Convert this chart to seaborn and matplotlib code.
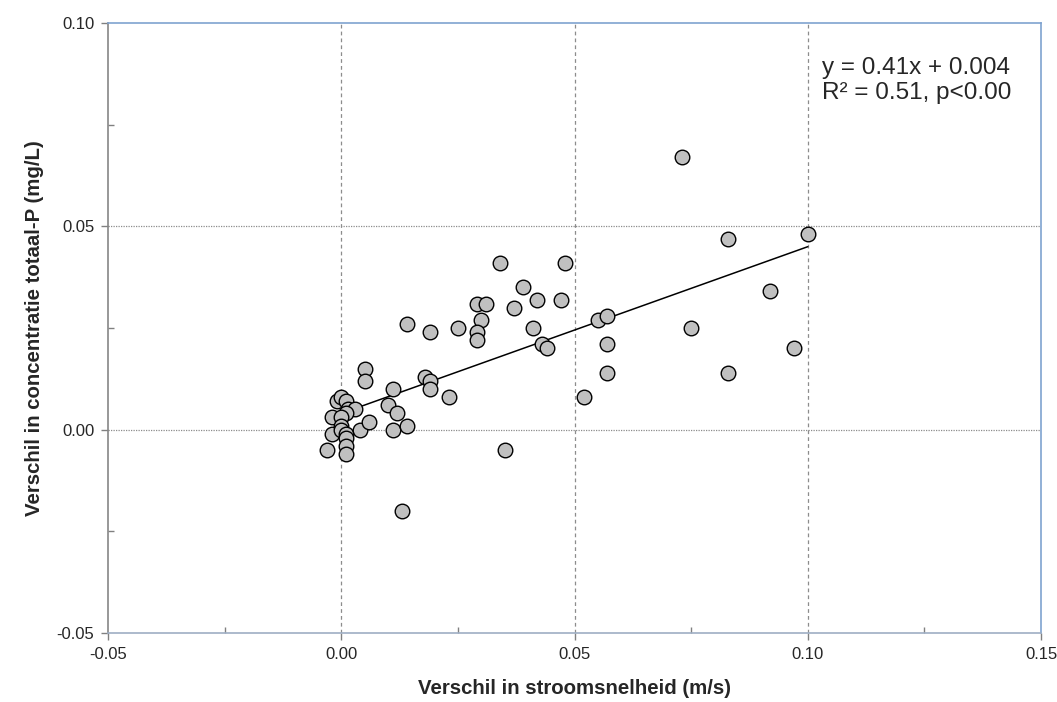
import numpy as np
import pandas as pd
import matplotlib
matplotlib.use("Agg")
import matplotlib.pyplot as plt
from matplotlib.ticker import MultipleLocator, FormatStrFormatter
import seaborn as sns

# ---- data ----
stroomsnelheid = [-0.003, -0.002, -0.002, -0.001, 0.000, 0.001, 0.0015, 0.003, 0.001, 0.000,
                  0.000, 0.000, 0.001, 0.001, 0.001, 0.001, 0.004, 0.006, 0.005, 0.005,
                  0.010, 0.011, 0.011, 0.012, 0.014, 0.013, 0.014, 0.018, 0.019, 0.019,
                  0.019, 0.023, 0.025, 0.029, 0.031, 0.030, 0.029, 0.029, 0.034, 0.039,
                  0.037, 0.042, 0.041, 0.047, 0.048, 0.043, 0.044, 0.055, 0.057, 0.057,
                  0.057, 0.052, 0.035, 0.073, 0.083, 0.100, 0.092, 0.075, 0.097, 0.083]
totaal_p = [-0.005, -0.001, 0.003, 0.007, 0.008, 0.007, 0.005, 0.005, 0.004, 0.003,
            0.001, 0.000, -0.001, -0.002, -0.004, -0.006, 0.000, 0.002, 0.015, 0.012,
            0.006, 0.010, 0.000, 0.004, 0.001, -0.020, 0.026, 0.013, 0.012, 0.010,
            0.024, 0.008, 0.025, 0.031, 0.031, 0.027, 0.024, 0.022, 0.041, 0.035,
            0.030, 0.032, 0.025, 0.032, 0.041, 0.021, 0.020, 0.027, 0.028, 0.021,
            0.014, 0.008, -0.005, 0.067, 0.047, 0.048, 0.034, 0.025, 0.020, 0.014]
trend_slope = 0.41
trend_intercept = 0.004
trend_start = 0.0
x_ticks = [-0.05, 0.00, 0.05, 0.10, 0.15]
y_ticks = [-0.05, 0.00, 0.05, 0.10]
x_label = "Verschil in stroomsnelheid (m/s)"
y_label = "Verschil in concentratie totaal-P (mg/L)"
annot_lines = ["y = 0.41x + 0.004", "R\u00b2 = 0.51, p<0.00"]

df = pd.DataFrame({"x": stroomsnelheid, "y": totaal_p})

sns.set_style("white")
plt.rcParams["font.family"] = ["Liberation Sans", "DejaVu Sans"]

fig = plt.figure(figsize=(10.57, 7.02), dpi=100)
ax = fig.add_axes([0.1022, 0.0983, 0.8827, 0.8689])

# grid
for xv in x_ticks[1:-1]:
    ax.axvline(xv, color="#8c8c8c", lw=0.9, ls=(0, (3, 2.5)), zorder=0)
for yv in y_ticks[1:-1]:
    ax.axhline(yv, color="#8c8c8c", lw=0.9, ls=(0, (1, 1)), zorder=0)

# trend line
tx = np.array([trend_start, max(stroomsnelheid)])
ax.plot(tx, trend_slope * tx + trend_intercept, color="black", lw=1.1, zorder=2)

sns.scatterplot(data=df, x="x", y="y", ax=ax, s=110, color="#c0c0c0",
                edgecolor="black", linewidth=1.0, zorder=3, legend=False)

ax.set_xlim(x_ticks[0], x_ticks[-1])
ax.set_ylim(y_ticks[0], y_ticks[-1])
ax.xaxis.set_major_locator(MultipleLocator(0.05))
ax.yaxis.set_major_locator(MultipleLocator(0.05))
ax.xaxis.set_minor_locator(MultipleLocator(0.025))
ax.yaxis.set_minor_locator(MultipleLocator(0.025))
ax.xaxis.set_major_formatter(FormatStrFormatter("%.2f"))
ax.yaxis.set_major_formatter(FormatStrFormatter("%.2f"))
ax.tick_params(which="major", direction="out", length=5, width=1, color="#808080",
               labelsize=12, bottom=True, left=True, pad=5)
ax.tick_params(which="minor", direction="in", length=4, width=1, color="#808080",
               bottom=True, left=True)

ax.spines["left"].set_color("#868686")
ax.spines["bottom"].set_color("#9eaec4")
ax.spines["top"].set_color("#7fa3d0")
ax.spines["right"].set_color("#7fa3d0")
for sp in ax.spines.values():
    sp.set_linewidth(1.2)

ax.set_xlabel(x_label, fontsize=14.7, fontweight="bold", labelpad=12)
ax.set_ylabel(y_label, fontsize=14.7, fontweight="bold", labelpad=9)

ax.text(0.765, 0.945, "\n".join(annot_lines), transform=ax.transAxes,
        fontsize=17.5, va="top", ha="left", linespacing=1.2)

fig.savefig("out.png", dpi=100)
